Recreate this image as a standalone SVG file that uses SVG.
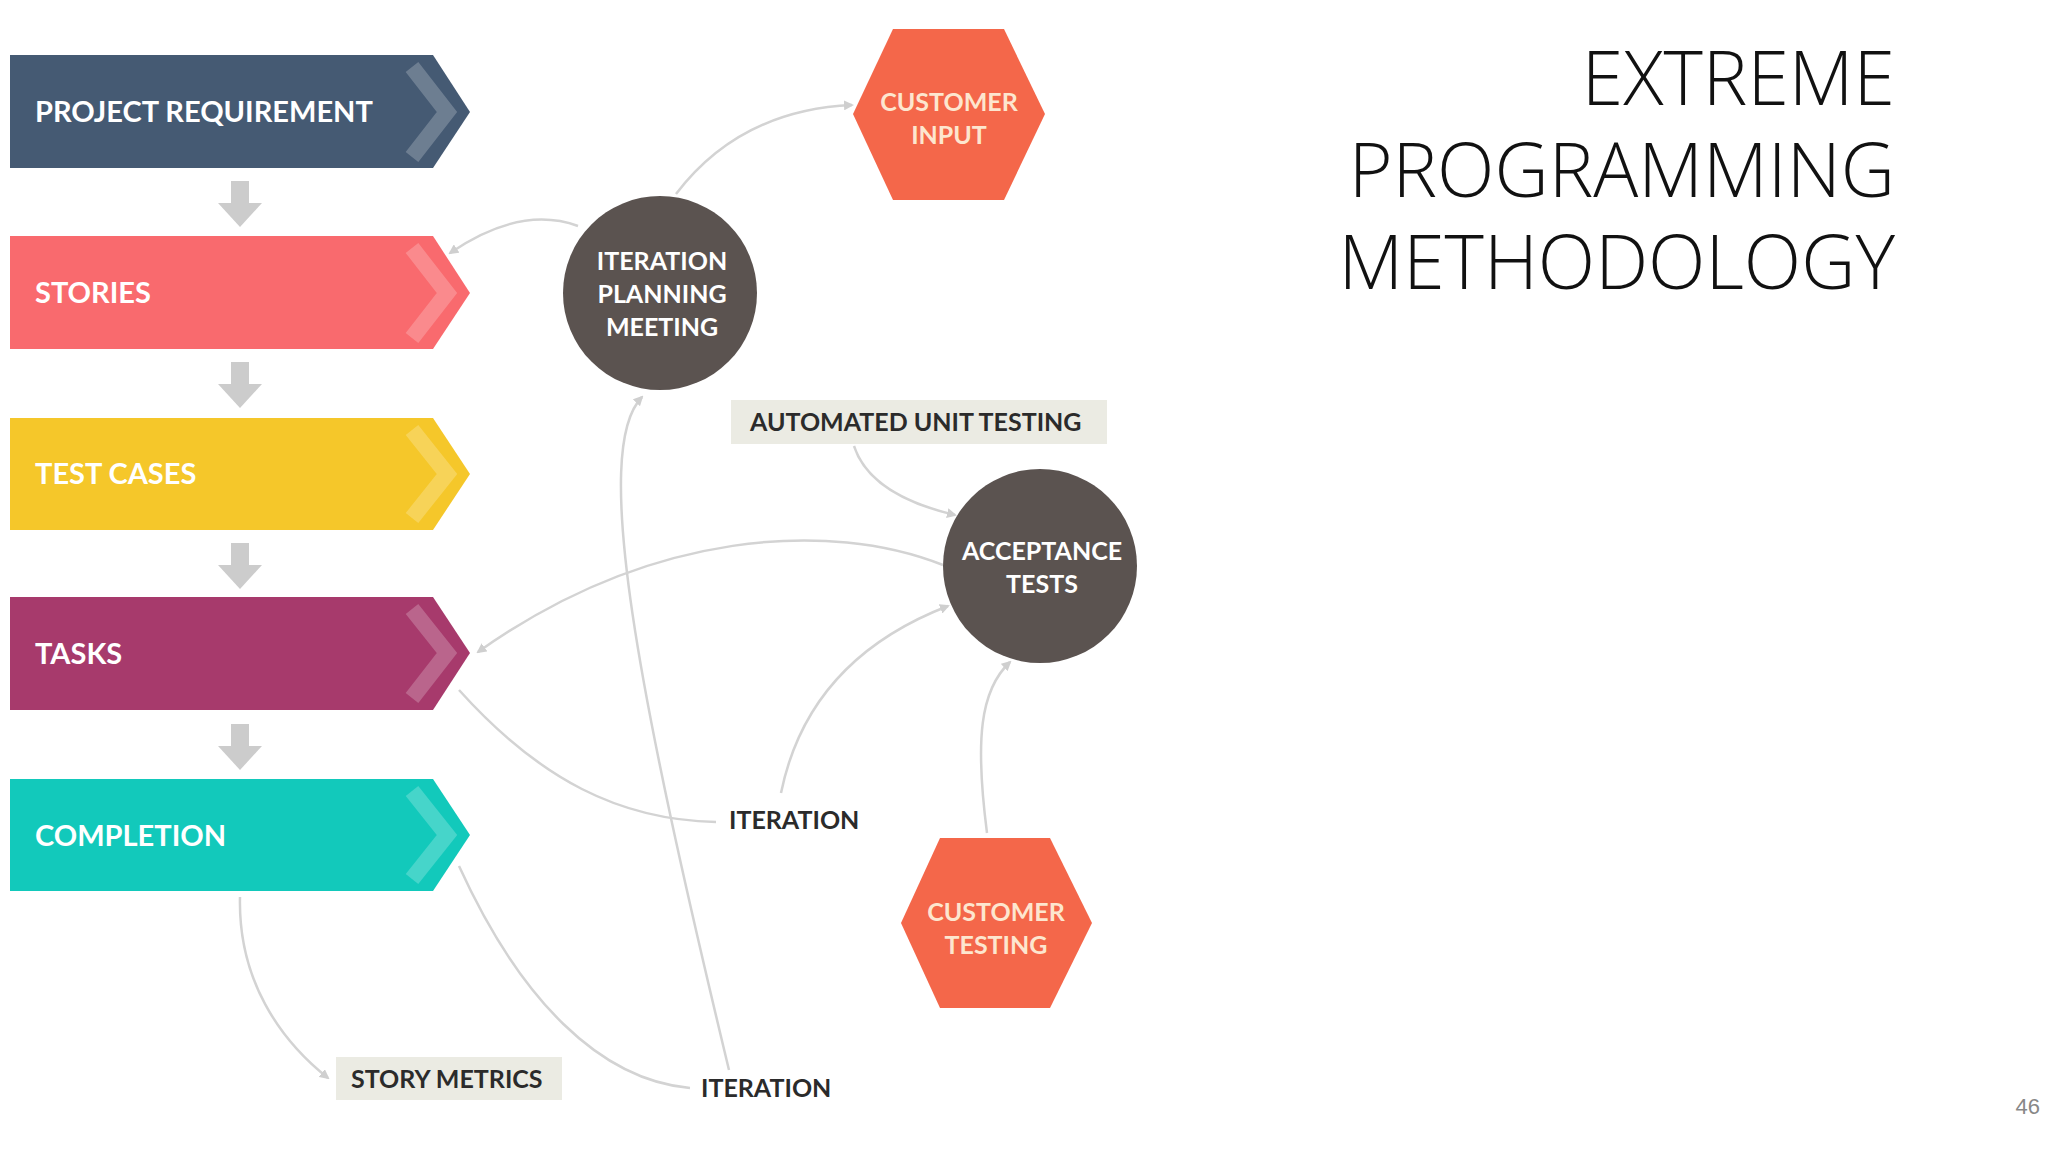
<svg xmlns="http://www.w3.org/2000/svg" width="2048" height="1152" viewBox="0 0 2048 1152">
<defs>
<style>
.lbl{font-family:"Lato","Liberation Sans",sans-serif;font-weight:bold;font-size:29px;fill:#fff}
.hx{font-family:"Lato","Liberation Sans",sans-serif;font-weight:bold;font-size:25px;fill:#fde6cf;text-anchor:middle}
.ci{font-family:"Lato","Liberation Sans",sans-serif;font-weight:bold;font-size:25px;fill:#fff;text-anchor:middle}
.dk{font-family:"Lato","Liberation Sans",sans-serif;font-weight:bold;font-size:25px;fill:#2b2b2b}
.con{fill:none;stroke:#d3d3d3;stroke-width:2.5;marker-end:url(#ah)}
.chev{fill:none;stroke:#fff;stroke-opacity:0.22;stroke-width:16}
.title{font-family:"Open Sans","Liberation Sans",sans-serif;font-weight:300;font-size:75px;fill:#111;text-anchor:end}
</style>
<marker id="ah" markerWidth="10" markerHeight="10" refX="8" refY="5" orient="auto" markerUnits="userSpaceOnUse" viewBox="0 0 10 10"><path d="M0,0 L10,5 L0,10 Z" fill="#cfcfcf"/></marker>
<g id="dn"><rect x="-9" y="0" width="18" height="26" fill="#cccccc"/><path d="M-22,22 L22,22 L0,46 Z" fill="#cccccc"/></g>
</defs>
<rect width="2048" height="1152" fill="#fff"/>
<g id="connectors">
<path class="con" d="M676,194 Q740,110 852,105"/>
<path class="con" d="M578,226 Q520,205 450,253"/>
<path class="con" d="M729,1070 C640,700 590,450 642,397"/>
<path class="con" d="M854,446 Q870,495 955,515"/>
<path class="con" d="M943,565 C830,520 650,530 478,652"/>
<path class="con" d="M459,690 C540,780 620,820 716,822" style="marker-end:none"/>
<path class="con" d="M781,793 C800,700 860,640 948,606"/>
<path class="con" d="M987,833 C975,740 980,690 1010,662"/>
<path class="con" d="M240,897 C238,980 280,1040 328,1078"/>
<path class="con" d="M459,866 C520,1000 600,1080 690,1088" style="marker-end:none"/>
<use href="#dn" x="240" y="181"/>
<use href="#dn" x="240" y="362"/>
<use href="#dn" x="240" y="543"/>
<use href="#dn" x="240" y="724"/>
</g>
<g id="project-requirement">
<path d="M10,55 L433,55 L470,112 L433,168 L10,168 Z" fill="#455a73"/>
<path class="chev" d="M412,67 L447,112 L412,157"/>
<text class="lbl" x="35" y="122">PROJECT REQUIREMENT</text>
</g>
<g id="stories">
<path d="M10,236 L433,236 L470,293 L433,349 L10,349 Z" fill="#f96a6e"/>
<path class="chev" d="M412,248 L447,293 L412,338"/>
<text class="lbl" x="35" y="303">STORIES</text>
</g>
<g id="test-cases">
<path d="M10,418 L433,418 L470,474 L433,530 L10,530 Z" fill="#f5c72a"/>
<path class="chev" d="M412,430 L447,474 L412,518"/>
<text class="lbl" x="35" y="484">TEST CASES</text>
</g>
<g id="tasks">
<path d="M10,597 L433,597 L470,653 L433,710 L10,710 Z" fill="#a73a6c"/>
<path class="chev" d="M412,609 L447,653 L412,698"/>
<text class="lbl" x="35" y="664">TASKS</text>
</g>
<g id="completion">
<path d="M10,779 L433,779 L470,835 L433,891 L10,891 Z" fill="#12c9bb"/>
<path class="chev" d="M412,791 L447,835 L412,879"/>
<text class="lbl" x="35" y="846">COMPLETION</text>
</g>
<g id="customer-input">
<path d="M893,29 L1004,29 L1045,114 L1004,200 L893,200 L853,114 Z" fill="#f4674a"/>
<text class="hx" x="949" y="111">CUSTOMER</text>
<text class="hx" x="949" y="144">INPUT</text>
</g>
<g id="iteration-planning-meeting">
<circle cx="660" cy="293" r="97" fill="#5b5350"/>
<text class="ci" x="662" y="270">ITERATION</text>
<text class="ci" x="662" y="303">PLANNING</text>
<text class="ci" x="662" y="336">MEETING</text>
</g>
<g id="automated-unit-testing">
<rect x="731" y="400" width="376" height="44" fill="#ebebe3"/>
<text class="dk" x="750" y="431">AUTOMATED UNIT TESTING</text>
</g>
<g id="acceptance-tests">
<circle cx="1040" cy="566" r="97" fill="#5b5350"/>
<text class="ci" x="1042" y="560">ACCEPTANCE</text>
<text class="ci" x="1042" y="593">TESTS</text>
</g>
<g id="customer-testing">
<path d="M940,838 L1050,838 L1092,923 L1050,1008 L940,1008 L901,923 Z" fill="#f4674a"/>
<text class="hx" x="996" y="921">CUSTOMER</text>
<text class="hx" x="996" y="954">TESTING</text>
</g>
<g id="iteration-1"><text class="dk" x="729" y="829">ITERATION</text></g>
<g id="iteration-2"><text class="dk" x="701" y="1097">ITERATION</text></g>
<g id="story-metrics">
<rect x="336" y="1057" width="226" height="43" fill="#ebebe3"/>
<text class="dk" x="351" y="1088">STORY METRICS</text>
</g>
<g id="title">
<text class="title" x="1895" y="105">EXTREME</text>
<text class="title" x="1895" y="197">PROGRAMMING</text>
<text class="title" x="1895" y="289">METHODOLOGY</text>
</g>
<text x="2040" y="1114" font-family="Liberation Sans, sans-serif" font-size="22" fill="#888" text-anchor="end">46</text>
</svg>
